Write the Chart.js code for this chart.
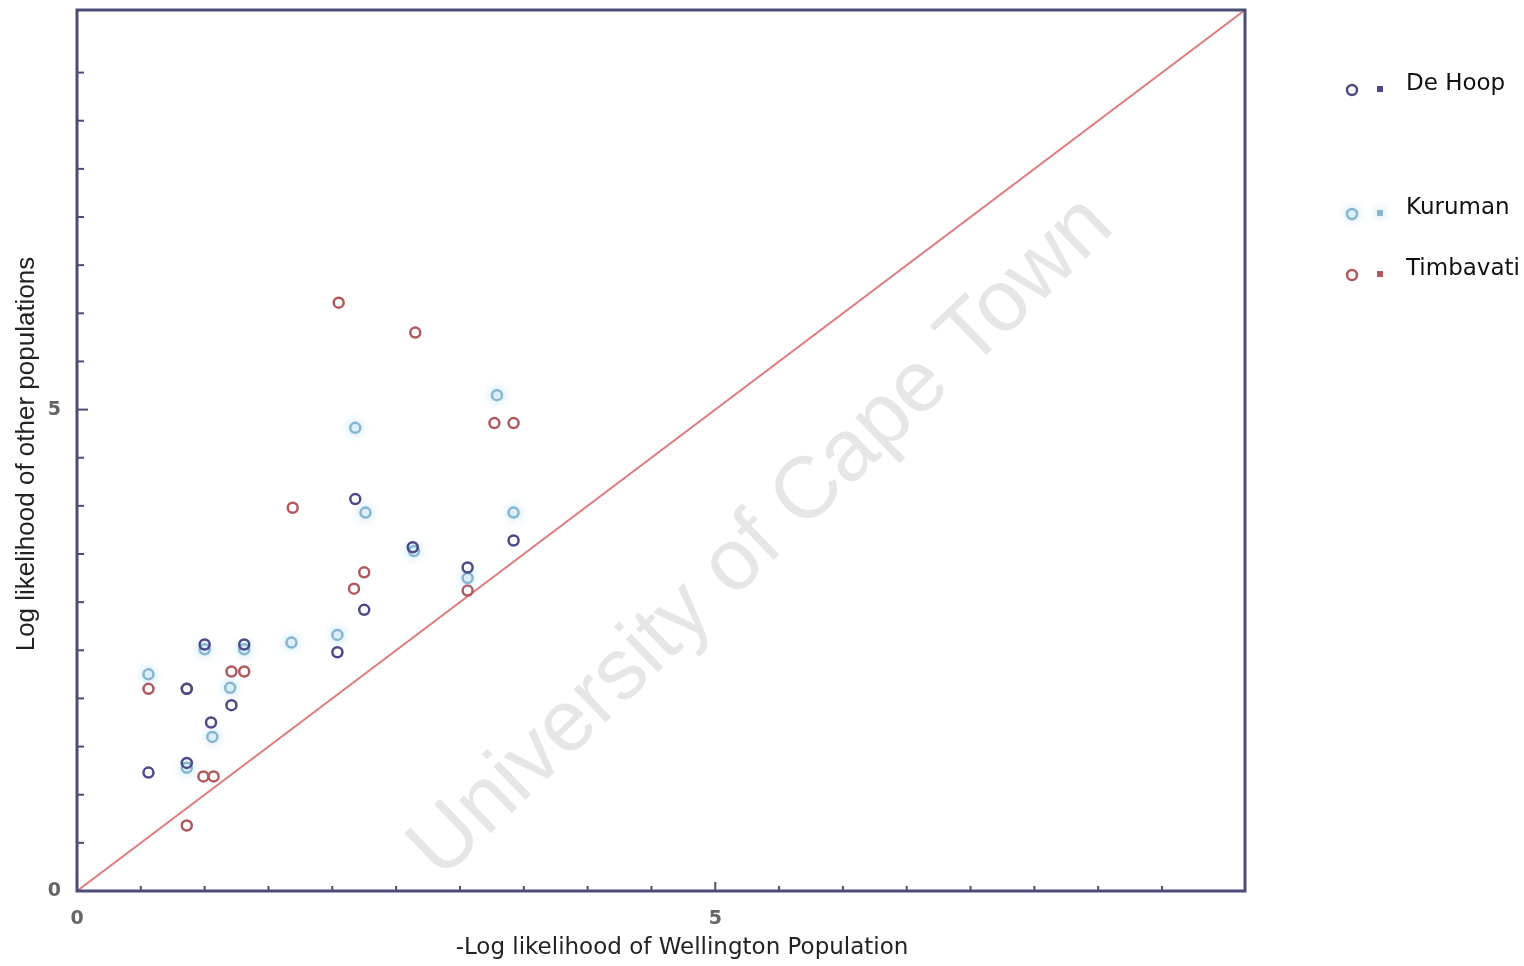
<!DOCTYPE html>
<html>
<head>
<meta charset="utf-8">
<script src="https://cdn.jsdelivr.net/npm/chart.js@4/dist/chart.umd.min.js"></script>
<style>
  html, body { margin: 0; padding: 0; background: #fff; }
  #chart { display: block; }
</style>
</head>
<body>
<canvas id="chart" width="1524" height="966"></canvas>
<script>
// values: [-log L (Wellington), log L (other)]
const deHoop = [
  [0.56, 1.23], [0.86, 1.33], [0.86, 2.10], [1.00, 2.56], [1.05, 1.75],
  [1.21, 1.93], [1.31, 2.56], [2.04, 2.48], [2.18, 4.07], [2.25, 2.92],
  [2.63, 3.57], [3.06, 3.36], [3.42, 3.64]
];
const kuruman = [
  [0.56, 2.25], [0.86, 1.28], [1.00, 2.51], [1.06, 1.60], [1.20, 2.11],
  [1.31, 2.51], [1.68, 2.58], [2.04, 2.66], [2.18, 4.81], [2.26, 3.93],
  [2.64, 3.53], [3.06, 3.25], [3.29, 5.15], [3.42, 3.93]
];
const timbavati = [
  [0.56, 2.10], [0.86, 2.10], [0.86, 0.68], [0.99, 1.19], [1.07, 1.19],
  [1.21, 2.28], [1.31, 2.28], [1.69, 3.98], [2.05, 6.11], [2.17, 3.14],
  [2.25, 3.31], [2.65, 5.80], [3.06, 3.12], [3.27, 4.86], [3.42, 4.86]
];
const seriesNames = ["De Hoop", "Kuruman", "Timbavati"];
const seriesColors = ["#4b4a86", "#86b6d0", "#b0585c"];
const axisMax = 9.15;
const tickStep = 0.5;
const labelledTicks = [0, 5];
const xTitle = "-Log likelihood of Wellington Population";
const yTitle = "Log likelihood of other populations";
const watermark = "University of Cape Town";

const toPoints = (arr) => arr.map((p) => ({ x: p[0], y: p[1] }));

const frameColor = "#4c4c78";

const decor = {
  id: "decor",
  beforeDatasetsDraw(chart) {
    const ctx = chart.ctx;
    ctx.save();
    ctx.translate(762, 538);
    ctx.rotate(-44 * Math.PI / 180);
    ctx.font = "87px 'Liberation Sans', Arial, sans-serif";
    ctx.fillStyle = "#e6e6e6";
    ctx.textAlign = "center";
    ctx.textBaseline = "middle";
    ctx.fillText(watermark, 0, 0);
    ctx.restore();
  },
  beforeDatasetDraw(chart, args) {
    if (args.index == 1) {
      chart.ctx.save();
      chart.ctx.shadowColor = "rgba(130,195,235,0.9)";
      chart.ctx.shadowBlur = 9;
    }
  },
  afterDatasetDraw(chart, args) {
    if (args.index == 1) chart.ctx.restore();
  },
  afterDraw(chart) {
    const ctx = chart.ctx;
    const a = chart.chartArea;
    ctx.save();
    // frame
    ctx.strokeStyle = frameColor;
    ctx.lineWidth = 3;
    ctx.strokeRect(a.left, a.top, a.right - a.left, a.bottom - a.top);
    // inward ticks
    ctx.lineWidth = 2;
    const isStep = (v) => Math.abs(v / tickStep - Math.round(v / tickStep)) < 1e-6;
    chart.scales.y.ticks.forEach((t) => {
      if (t.value <= 0 || t.value >= axisMax || !isStep(t.value)) return;
      const y = chart.scales.y.getPixelForValue(t.value);
      const len = labelledTicks.includes(t.value) ? 11 : 7;
      ctx.beginPath();
      ctx.moveTo(a.left, y);
      ctx.lineTo(a.left + len, y);
      ctx.stroke();
    });
    chart.scales.x.ticks.forEach((t) => {
      if (t.value <= 0 || t.value >= axisMax || !isStep(t.value)) return;
      const x = chart.scales.x.getPixelForValue(t.value);
      const len = labelledTicks.includes(t.value) ? 9 : 5;
      ctx.beginPath();
      ctx.moveTo(x, a.bottom);
      ctx.lineTo(x, a.bottom - len);
      ctx.stroke();
    });
    // axis titles
    ctx.fillStyle = "#222";
    ctx.textAlign = "center";
    ctx.textBaseline = "middle";
    ctx.font = "23px 'DejaVu Sans', sans-serif";
    ctx.fillText(xTitle, 682, 948);
    ctx.save();
    ctx.translate(27, 454);
    ctx.rotate(-Math.PI / 2);
    ctx.font = "26px 'Liberation Sans', Arial, sans-serif";
    ctx.fillText(yTitle, 0, 0);
    ctx.restore();
    // legend
    const legendY = [90, 214, 275];
    seriesNames.forEach((name, i) => {
      const y = legendY[i];
      ctx.save();
      if (i == 1) {
        ctx.shadowColor = "rgba(130,195,235,0.9)";
        ctx.shadowBlur = 9;
      }
      ctx.strokeStyle = seriesColors[i];
      ctx.lineWidth = 2.5;
      ctx.beginPath();
      ctx.arc(1352, y, 5, 0, Math.PI * 2);
      ctx.stroke();
      ctx.fillStyle = seriesColors[i];
      ctx.fillRect(1377, y - 4, 6, 6);
      ctx.restore();
      ctx.fillStyle = "#111";
      ctx.textAlign = "left";
      ctx.font = "23px 'DejaVu Sans', sans-serif";
      ctx.fillText(name, 1406, y - 6);
    });
    ctx.restore();
  }
};

const pointSet = (name, arr, color) => ({
  label: name,
  data: toPoints(arr),
  borderColor: color,
  backgroundColor: "rgba(255,255,255,0)",
  pointRadius: 5,
  pointBorderWidth: 2.5,
  pointStyle: "circle",
  showLine: false
});

const tickLabel = (value) => (labelledTicks.includes(value) ? String(value) : "");
const tickFont = { family: "DejaVu Sans", size: 19, weight: "bold" };

// drop the label overhang padding so the plot box sits where the figure has it
const noOverhang = (scale) => {
  scale.paddingTop = 0;
  scale.paddingBottom = 0;
  scale.paddingLeft = 0;
  scale.paddingRight = 0;
};

const config = {
  type: "scatter",
  data: {
    datasets: [
      pointSet(seriesNames[0], deHoop, seriesColors[0]),
      pointSet(seriesNames[1], kuruman, seriesColors[1]),
      pointSet(seriesNames[2], timbavati, seriesColors[2]),
      {
        label: "y = x",
        type: "line",
        data: [{ x: 0, y: 0 }, { x: axisMax, y: axisMax }],
        borderColor: "#e07c80",
        borderWidth: 2,
        pointRadius: 0
      }
    ]
  },
  options: {
    responsive: false,
    animation: false,
    layout: { padding: { top: 10, right: 279, left: 0, bottom: 0 } },
    plugins: { legend: { display: false }, tooltip: { enabled: false } },
    scales: {
      x: {
        type: "linear",
        min: 0,
        max: axisMax,
        grid: { display: false },
        border: { display: false },
        afterFit: (scale) => { scale.height = 75; noOverhang(scale); },
        ticks: {
          stepSize: tickStep,
          autoSkip: false,
          maxRotation: 0,
          padding: 9,
          color: "#666",
          font: tickFont,
          callback: tickLabel
        }
      },
      y: {
        type: "linear",
        min: 0,
        max: axisMax,
        grid: { display: false },
        border: { display: false },
        afterFit: (scale) => { scale.width = 77; noOverhang(scale); },
        ticks: {
          stepSize: tickStep,
          autoSkip: false,
          padding: 8,
          color: "#666",
          font: tickFont,
          callback: tickLabel
        }
      }
    }
  },
  plugins: [decor]
};

new Chart(document.getElementById("chart"), config);
</script>
</body>
</html>
